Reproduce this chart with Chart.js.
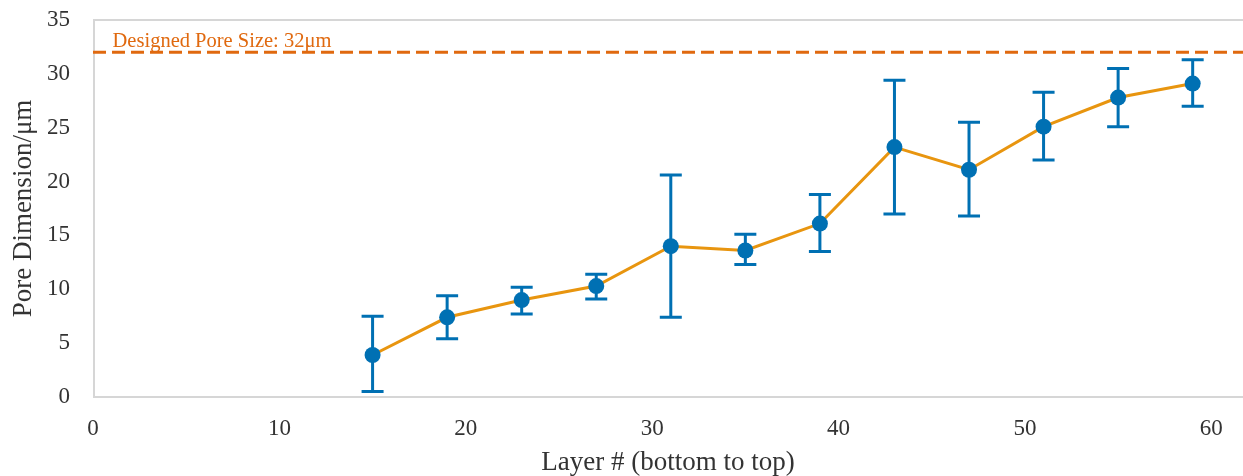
<!DOCTYPE html>
<html>
<head>
<meta charset="utf-8">
<script src="https://cdn.jsdelivr.net/npm/chart.js@4"></script>
<style>
  html, body { margin: 0; padding: 0; background: #fff; }
  #wrap { width: 1243px; height: 476px; }
</style>
</head>
<body>
<div id="wrap"><canvas id="poreChart"></canvas></div>
<script>
// Layer numbers and measured pore dimensions (um)
var layers = [15, 19, 23, 27, 31, 35, 39, 43, 47, 51, 55, 59];
var poreMean = [3.9, 7.4, 9.0, 10.3, 14.0, 13.6, 16.1, 23.2, 21.1, 25.1, 27.8, 29.1];
var poreLow  = [0.5, 5.4, 7.7, 9.1, 7.4, 12.3, 13.5, 17.0, 16.8, 22.0, 25.1, 27.0];
var poreHigh = [7.5, 9.4, 10.2, 11.4, 20.6, 15.1, 18.8, 29.4, 25.5, 28.3, 30.5, 31.3];
var designedSize = 32;
var xTicks = [0, 10, 20, 30, 40, 50, 60];
var yTicks = [0, 5, 10, 15, 20, 25, 30, 35];
var xMax = 61.7;

var serif = "'Liberation Serif', 'Times New Roman', serif";
var blue = '#0070b3';
var orange = '#e8950f';
var darkOrange = '#e0690f';
var textGrey = '#333333';

var points = layers.map(function (x, i) { return { x: x, y: poreMean[i] }; });

var errorBars = {
  id: 'errorBars',
  beforeDatasetsDraw: function (chart) {
    var ctx = chart.ctx, xs = chart.scales.x, ys = chart.scales.y;
    ctx.save();
    ctx.strokeStyle = blue;
    ctx.lineWidth = 3;
    layers.forEach(function (l, i) {
      var px = xs.getPixelForValue(l);
      var top = ys.getPixelForValue(poreHigh[i]);
      var bot = ys.getPixelForValue(poreLow[i]);
      ctx.beginPath();
      ctx.moveTo(px, top); ctx.lineTo(px, bot);
      ctx.moveTo(px - 11, top); ctx.lineTo(px + 11, top);
      ctx.moveTo(px - 11, bot); ctx.lineTo(px + 11, bot);
      ctx.stroke();
    });
    ctx.restore();
  }
};

var frame = {
  id: 'frame',
  beforeDraw: function (chart) {
    var a = chart.chartArea, ctx = chart.ctx;
    ctx.save();
    ctx.strokeStyle = '#d6d6d6';
    ctx.lineWidth = 2;
    ctx.strokeRect(a.left + 1, a.top, a.right - a.left + 4, a.bottom - a.top);
    ctx.restore();
  },
  afterDraw: function (chart) {
    var ctx = chart.ctx, xs = chart.scales.x, ys = chart.scales.y;
    ctx.save();
    ctx.fillStyle = darkOrange;
    ctx.font = '20.5px ' + serif;
    ctx.textBaseline = 'alphabetic';
    ctx.fillText('Designed Pore Size: 32\u03bcm', xs.getPixelForValue(1.05), ys.getPixelForValue(designedSize) - 5);
    ctx.restore();
  }
};

new Chart(document.getElementById('poreChart'), {
  type: 'scatter',
  data: {
    datasets: [{
      label: 'Pore dimension',
      data: points,
      showLine: true,
      borderColor: orange,
      borderWidth: 3,
      backgroundColor: blue,
      pointBackgroundColor: blue,
      pointBorderColor: blue,
      pointRadius: 8,
      pointBorderWidth: 0
    }, {
      label: 'Designed',
      data: [{ x: 0, y: designedSize }, { x: xMax, y: designedSize }],
      showLine: true,
      borderColor: darkOrange,
      borderWidth: 3,
      borderDash: [13, 6],
      pointRadius: 0
    }]
  },
  options: {
    responsive: true,
    maintainAspectRatio: false,
    animation: false,
    layout: { autoPadding: false, padding: { top: 20, right: 0, left: 0, bottom: 0 } },
    plugins: { legend: { display: false }, tooltip: { enabled: false } },
    scales: {
      x: {
        type: 'linear',
        min: 0,
        max: xMax,
        afterFit: function (s) { s.height = 79; s.paddingRight = 0; s.paddingLeft = 0; },
        afterBuildTicks: function (s) { s.ticks = xTicks.map(function (v) { return { value: v }; }); },
        grid: { display: false, drawTicks: false },
        border: { display: false },
        ticks: { font: { family: serif, size: 23 }, color: textGrey, padding: 18, maxRotation: 0 },
        title: { display: true, text: 'Layer # (bottom to top)', font: { family: serif, size: 27 }, color: textGrey, padding: { top: 0, bottom: -3 } }
      },
      y: {
        min: 0,
        max: 35,
        afterFit: function (s) { s.width = 93; s.paddingTop = 0; s.paddingBottom = 0; },
        afterBuildTicks: function (s) { s.ticks = yTicks.map(function (v) { return { value: v }; }); },
        grid: { display: false, drawTicks: false },
        border: { display: false },
        ticks: { font: { family: serif, size: 23 }, color: textGrey, padding: 23 },
        title: { display: true, text: 'Pore Dimension/\u03bcm', font: { family: serif, size: 27 }, color: textGrey, padding: { top: 8, bottom: 0 } }
      }
    }
  },
  plugins: [errorBars, frame]
});
</script>
</body>
</html>
